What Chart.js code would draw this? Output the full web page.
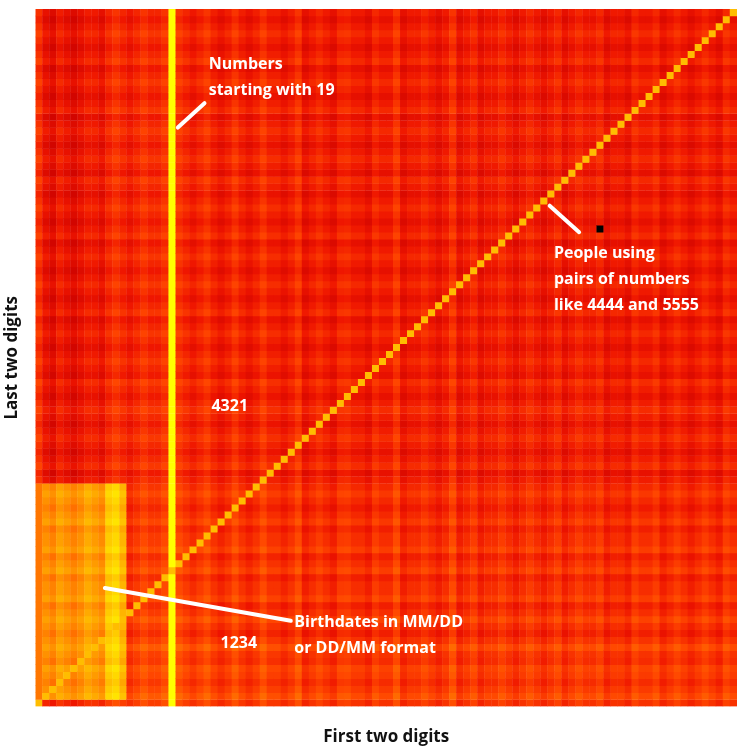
<!DOCTYPE html>
<html><head><meta charset="utf-8">
<script src="https://cdn.jsdelivr.net/npm/chart.js@4"></script>
<style>html,body{margin:0;padding:0;background:#fff}#w{width:748px;height:755px}</style>
</head><body><div id="w"><canvas id="c"></canvas></div>
<script>
// Level scale 0..10 (dark red -> yellow)
const colLevel = [5,3.5,3.5,3.5,3.5,3.5,3.5,3.5,4,4, 4.5,4.5,4.5,4.5,4.5,4.5,4.5,4.5,4.5,5, 4.5,4.5,4.5,4.5,4.5,4.2,4.2,4.2,4.5,4.2,
  4.2,4.2,4.5,4.2,4.2,4.2,4.2,4.5,4,4, 4,4,4,4.5,4,4,4,4,4,4, 4,4.5,4,4,4,4,4,4,4,4.5, 4,4,4,4,4,4,4,4,4,4,
  4,4,4,4,4,4,4,4,4,4, 4,4,4,4,4,4,4,4,4,4, 4,4,4,4,4,4,4,4,4,4];
const colShift = [0,0,-1,1,0,-1,0,1,0,-1, 0,1,0,-1,0,1,0,0,1,0, 1,0,-1,0,1,0,-1,0,1,0,
  -1,0,1,0,0,-1,0,1,-1,0, 1,0,-1,0,1,0,0,-1,1,0, 0,1,-1,0,0,1,0,-1,0,1, -1,0,1,-1,0,0,1,0,-1,0,
  1,0,-1,0,1,-1,0,1,0,0, 1,-1,0,0,-1,1,0,0,1,-1, 0,1,0,-1,0,1,0,-1,1,0];
const rowLevel = [5.2,5.5,5.5,5.5,5.5,5.2,5.5,5.2,5.5,5.2, 5,5,5.2,5,5,5,5,5,5,5, 5,5,5,5,5,5,4.8,4.8,4.8,4.8,
  4.8,4.8,4.3,4.3,4.3,4.3,4.3,4.3,4.3,4.3, 4.3,4.3,4.3,4.3,4.3,4.3,4.3,4.3,4.2,4.2, 4.2,4.2,4.2,4.2,4.2,4.2,4.2,4.2,4.2,4.2,
  4.2,4.2,4.2,4.2,4.2,4.2,4.2,4.2,4.2,4.2, 4.2,4.2,4.2,4.2,4.2,4.2,4.2,4.2,4.2,4.2, 4.2,4.2,4.2,4.2,4.2,4.2,4.2,4.2,4.2,4.2, 4.2,4.2,4.2,4.2,4.2,4.2,4.2,4.2,4.2,4.2];
const rowShift = [0,1,0,-1,0,1,-1,0,1,0, -1,0,1,0,-1,1,0,0,-1,1, 0,-1,1,0,0,-1,1,0,-1,0,
  1,0,0,-1,1,0,-1,0,1,0, -1,0,1,0,-1,0,1,-1,0,1, 0,-1,0,1,0,-1,1,0,-1,0, 1,0,-1,0,1,0,-1,1,0,-1,
  0,1,0,-1,0,1,-1,0,1,0, -1,0,1,0,-1,1,0,-1,0,1, 0,-1,1,0,-1,0,1,0,-1,0];
const birthCols = [1,2,3,4,5,6,7,8,9,10,11,12];   // MM
const birthRows = 31;                               // DD
const birthLevel = [6.3,6.3,6.3,6.3,6.3,6.3,6.5,6.5,6.5,7.5,7.5,7];
const col19Level = 9;
const diagLevel = 7.2;
const blackCell = [80, 68];
const labels = [
  {t:["Numbers","starting with 19"], x:24.2, y:91.5, line:[19.8,82.5,23.6,86]},
  {t:["People using","pairs of numbers","like 4444 and 5555"], x:73.4, y:64.5, line:[72.8,71.3,77,67.5]},
  {t:["4321"], x:27.2, y:42.5, c:true},
  {t:["Birthdates in MM/DD","or DD/MM format"], x:36.4, y:11.5, line:[9.4,16.5,35.9,11.8]},
  {t:["1234"], x:28.5, y:8.5, c:true}
];
const stops = [[2,[150,0,0]],[3,[200,0,0]],[4,[238,20,0]],[5,[255,70,0]],[6,[255,130,0]],[7,[255,180,0]],[8,[255,225,0]],[9,[255,255,0]],[10,[255,255,170]]];
function color(v){
  if(v<0) return '#000';
  if(v<=stops[0][0]) return 'rgb('+stops[0][1]+')';
  for(let i=1;i<stops.length;i++){ if(v<=stops[i][0]){const a=stops[i-1],b=stops[i],f=(v-a[0])/(b[0]-a[0]);
    return 'rgb('+a[1].map((c,k)=>Math.round(c+(b[1][k]-c)*f)).join(',')+')';}}
  return 'rgb('+stops[stops.length-1][1]+')';
}
const pts=[];
for(let x=0;x<100;x++)for(let y=0;y<100;y++){
  let v=(colLevel[x]+rowLevel[y])/2+(colShift[x]+rowShift[y])*0.3;
  const bi=birthCols.indexOf(x);
  if(bi>=0&&y>=1&&y<=birthRows) v=birthLevel[bi]+(colShift[x]+rowShift[y])*0.3;
  if(x===0&&y<=birthRows) v=5.8;
  if(x===19) v=col19Level;
  if(x===y) v=diagLevel;
  if(x===blackCell[0]&&y===blackCell[1]) v=-1;
  pts.push({x,y,v});
}
const annot={id:'annot',afterDatasetsDraw(ch){
  const ctx=ch.ctx,xs=ch.scales.x,ys=ch.scales.y;
  ctx.save();ctx.fillStyle='#fff';ctx.strokeStyle='#fff';ctx.lineWidth=4;ctx.lineCap='round';
  ctx.font='bold 16px "Open Sans"';ctx.textBaseline='middle';
  for(const l of labels){
    if(l.line){ctx.beginPath();ctx.moveTo(xs.getPixelForValue(l.line[0]),ys.getPixelForValue(l.line[1]));
      ctx.lineTo(xs.getPixelForValue(l.line[2]),ys.getPixelForValue(l.line[3]));ctx.stroke();}
    ctx.textAlign=l.c?'center':'left';
    l.t.forEach((s,i)=>ctx.fillText(s,xs.getPixelForValue(l.x),ys.getPixelForValue(l.y)+i*26));
  }
  ctx.restore();
}};
const cellR=c=>{const a=c.chart.chartArea;return a?(a.right-a.left)/100/Math.SQRT2*1.06:4;};
new Chart(document.getElementById('c'),{
  type:'scatter',
  data:{datasets:[{data:pts,pointStyle:'rect',radius:cellR,hoverRadius:cellR,
    borderWidth:0,backgroundColor:c=>c.raw?color(c.raw.v):'#f00'}]},
  options:{responsive:true,maintainAspectRatio:false,animation:false,
    layout:{padding:{top:9,right:11,left:0,bottom:0}},
    plugins:{legend:{display:false},tooltip:{enabled:false}},
    scales:{
      x:{min:-0.5,max:99.5,ticks:{display:false},grid:{display:false},border:{display:false},
        title:{display:true,text:'First two digits',color:'#111',font:{family:'Open Sans',size:17,weight:'bold'},padding:{top:12,bottom:8}}},
      y:{min:-0.5,max:99.5,ticks:{display:false},grid:{display:false},border:{display:false},
        title:{display:true,text:'Last two digits',color:'#111',font:{family:'Open Sans',size:17,weight:'bold'},padding:{top:2,bottom:5}}}
    }},
  plugins:[annot]
});
</script></body></html>
